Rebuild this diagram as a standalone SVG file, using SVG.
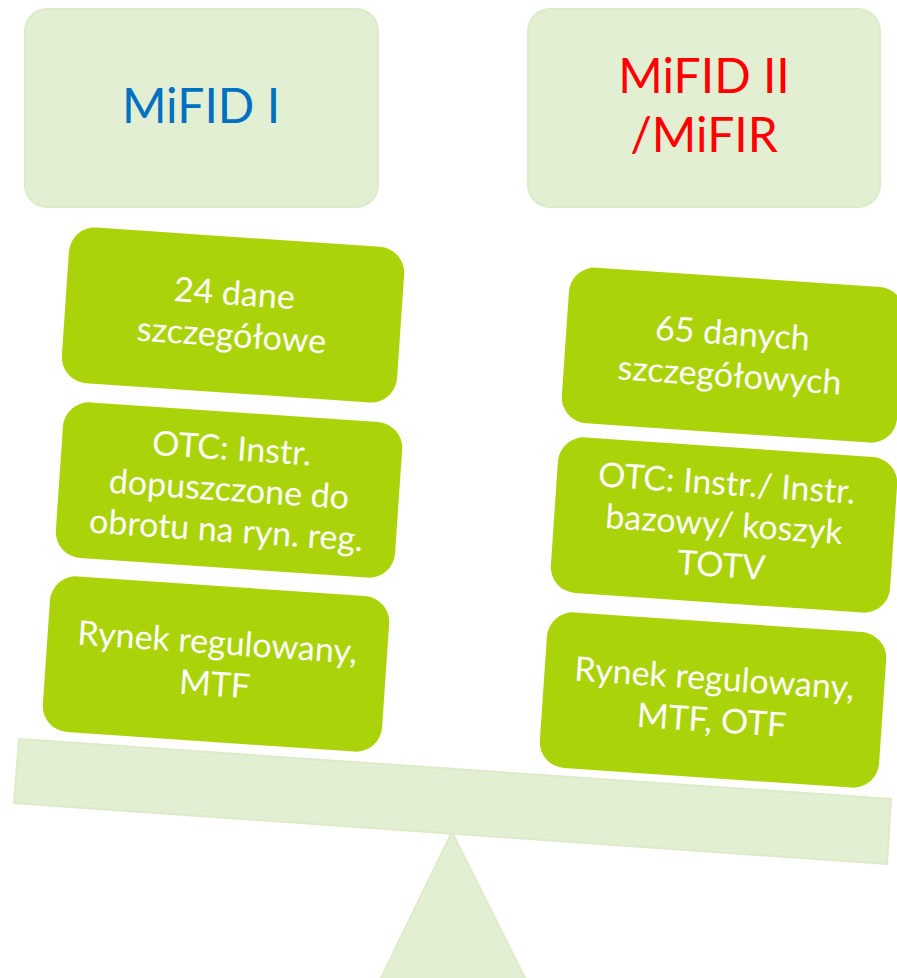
<svg xmlns="http://www.w3.org/2000/svg" width="897" height="978" viewBox="0 0 897 978">
<style>
.hdr{fill:#e3efd2;stroke:#dcebc8;stroke-width:2}
.base{fill:#e3efd2;stroke:#dcebc8;stroke-width:2}
.item{fill:#abd30a}
.t{font-family:Lato,"Liberation Sans",sans-serif;text-anchor:middle}
.it{fill:#ffffff;font-size:34px}
.h1{fill:#0070c0;font-size:48px}
.h2{fill:#ff0000;font-size:48px}
</style>
<rect width="897" height="978" fill="#ffffff"/>
<g id="fulcrum"><polygon class="base" points="452,832 380,980 526,980"/></g>
<g id="plank"><polygon class="base" points="19,739 891,799 887,864 14,803"/></g>
<g id="hdr-left"><rect class="hdr" x="25" y="9" width="353" height="198" rx="22"/><text class="t h1" x="201" y="123">MiFID I</text></g>
<g id="hdr-right"><rect class="hdr" x="528" y="9" width="352" height="198" rx="22"/><text class="t h2" x="704" y="93">MiFID II</text><text class="t h2" x="704" y="152">/MiFIR</text></g>
<g id="l1" transform="translate(233,315) rotate(3.9)"><rect class="item" x="-168" y="-78" width="336" height="156" rx="26"/><text class="t it" x="0" y="-10">24 dane</text><text class="t it" x="0" y="32">szczegółowe</text></g>
<g id="l2" transform="translate(229,490) rotate(3.9)"><rect class="item" x="-170" y="-78" width="340" height="156" rx="26"/><text class="t it" x="0" y="-30">OTC: Instr.</text><text class="t it" x="0" y="11">dopuszczone do</text><text class="t it" x="0" y="52">obrotu na ryn. reg.</text></g>
<g id="l3" transform="translate(216,664) rotate(3.9)"><rect class="item" x="-170" y="-78" width="340" height="156" rx="26"/><text class="t it" x="0" y="-10">Rynek regulowany,</text><text class="t it" x="0" y="32">MTF</text></g>
<g id="r1" transform="translate(731,355) rotate(3.9)"><rect class="item" x="-166" y="-78" width="336" height="156" rx="26"/><text class="t it" x="0" y="-10">65 danych</text><text class="t it" x="0" y="32">szczegółowych</text></g>
<g id="r2" transform="translate(724,525) rotate(3.9)"><rect class="item" x="-170" y="-78" width="340" height="156" rx="26"/><text class="t it" x="0" y="-30">OTC: Instr./ Instr.</text><text class="t it" x="0" y="11">bazowy/ koszyk</text><text class="t it" x="0" y="52">TOTV</text></g>
<g id="r3" transform="translate(713,700) rotate(3.9)"><rect class="item" x="-170" y="-78" width="340" height="156" rx="26"/><text class="t it" x="0" y="-10">Rynek regulowany,</text><text class="t it" x="0" y="32">MTF, OTF</text></g>
<g id="connectors"></g>
</svg>
